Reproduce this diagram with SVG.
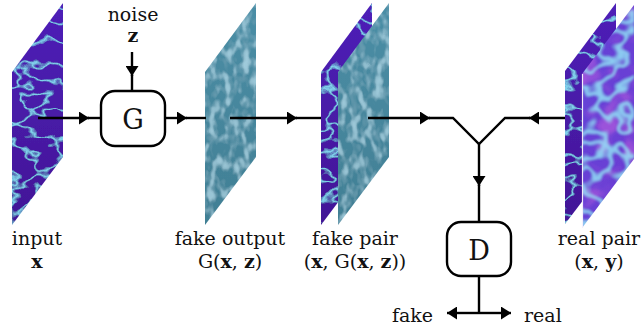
<svg xmlns="http://www.w3.org/2000/svg" width="643" height="332" viewBox="0 0 643 332">
<defs>
<style>
.lbl{font-family:"DejaVu Serif","Liberation Serif",serif;font-size:19px;fill:#111;text-anchor:middle}
.b{font-weight:bold}
.big{font-family:"DejaVu Serif","Liberation Serif",serif;font-size:27px;fill:#111;text-anchor:middle}
.wire{fill:none;stroke:#000;stroke-width:2.4;stroke-linejoin:miter}
.box{fill:#fff;stroke:#000;stroke-width:2.4}
</style>
<marker id="ah" markerUnits="userSpaceOnUse" markerWidth="11" markerHeight="13" refX="10" refY="6.5" orient="auto">
<path d="M0,0 L10,6.5 L0,13 z" fill="#000"/>
</marker>
<filter id="fBlue" x="0" y="0" width="1" height="1">
<feTurbulence type="fractalNoise" baseFrequency="0.03 0.045" numOctaves="3" seed="2" result="n"/>
<feColorMatrix in="n" type="matrix" values="0 0 0 0 0.25  0 0 0 0 0.78  0 0 0 0 0.93  1 0 0 0 0" result="c"/>
<feComponentTransfer in="c" result="v"><feFuncA type="table" tableValues="0 0 0 0 0 0 0 0 0 0 0 0 0 0 0 0 0 0 0 0.3 0.85 0.3 0 0 0 0 0 0 0 0 0 0 0 0 0 0 0 0 0 0 0"/></feComponentTransfer>
<feGaussianBlur in="v" stdDeviation="0.5" result="vb"/>
<feComposite in="vb" in2="SourceGraphic" operator="over"/>
</filter>
<filter id="fFake" x="0" y="0" width="1" height="1">
<feTurbulence type="fractalNoise" baseFrequency="0.12 0.07" numOctaves="2" seed="7" result="n"/>
<feColorMatrix in="n" type="matrix" values="0 0 0 0 0.5  0 0 0 0 0.78  0 0 0 0 0.9  1 0 0 0 0" result="c"/>
<feComponentTransfer in="c" result="hi"><feFuncA type="table" tableValues="0 0 0 0 0 0.15 0.45 0.6 0.6 0.6"/></feComponentTransfer>
<feColorMatrix in="n" type="matrix" values="0 0 0 0 0.2  0 0 0 0 0.4  0 0 0 0 0.5  0 1 0 0 0" result="d"/>
<feComponentTransfer in="d" result="lo"><feFuncA type="table" tableValues="0 0 0 0 0 0 0.25 0.45 0.5 0.5"/></feComponentTransfer>
<feMerge result="m"><feMergeNode in="SourceGraphic"/><feMergeNode in="lo"/><feMergeNode in="hi"/></feMerge>
<feGaussianBlur in="m" stdDeviation="0.4"/>
</filter>
<filter id="fReal" x="0" y="0" width="1" height="1">
<feTurbulence type="fractalNoise" baseFrequency="0.045" numOctaves="2" seed="11" result="n"/>
<feColorMatrix in="n" type="matrix" values="0 0 0 0 0.52  0 0 0 0 0.12  0 0 0 0 0.74  0 1 0 0 0" result="m"/>
<feComponentTransfer in="m" result="mag"><feFuncA type="table" tableValues="0 0 0 0 0 0.1 0.35 0.5 0.5 0.5"/></feComponentTransfer>
<feColorMatrix in="n" type="matrix" values="0 0 0 0 0.3  0 0 0 0 0.76  0 0 0 0 0.95  1 0 0 0 0" result="c"/>
<feComponentTransfer in="c" result="v"><feFuncA type="table" tableValues="0 0 0 0 0 0 0 0 0 0 0 0 0 0 0 0 0 0.1 0.35 0.65 0.8 0.65 0.35 0.1 0 0 0 0 0 0 0 0 0 0 0 0 0 0 0 0 0"/></feComponentTransfer>
<feGaussianBlur in="v" stdDeviation="0.8" result="vb"/>
<feMerge><feMergeNode in="SourceGraphic"/><feMergeNode in="mag"/><feMergeNode in="vb"/></feMerge>
</filter>
<linearGradient id="gBlue" x1="0" y1="0" x2="0" y2="1">
<stop offset="0" stop-color="#4e20b8"/><stop offset="1" stop-color="#421596"/>
</linearGradient>
<linearGradient id="gFake" x1="0" y1="0" x2="0" y2="1">
<stop offset="0" stop-color="#4b8ea6"/><stop offset="1" stop-color="#417f94"/>
</linearGradient>
<linearGradient id="gReal" x1="0" y1="0" x2="1" y2="1">
<stop offset="0" stop-color="#6244d8"/><stop offset="1" stop-color="#6e3cd2"/>
</linearGradient>
<clipPath id="cpIn"><polygon points="12,72 63,3 63,157 12,225"/></clipPath>
<clipPath id="cpOut"><polygon points="205,72 256,3 256,157 205,225"/></clipPath>
<clipPath id="cpFb"><polygon points="321,72 372,3 372,157 321,225"/></clipPath>
<clipPath id="cpFf"><polygon points="338,72 389,3 389,157 338,225"/></clipPath>
<clipPath id="cpRb"><polygon points="565,71 616,3 616,157 565,224"/></clipPath>
<clipPath id="cpRf"><polygon points="582,74 634,5 634,159 582,228"/></clipPath>
</defs>
<rect width="643" height="332" fill="#fff"/>

<g id="input">
<g clip-path="url(#cpIn)"><rect x="12" y="3" width="51" height="222" fill="url(#gBlue)" filter="url(#fBlue)"/></g>
<text class="lbl" x="37" y="245">input</text>
<text class="lbl b" x="37" y="268">x</text>
</g>

<g id="fake-output">
<g clip-path="url(#cpOut)"><rect x="205" y="3" width="51" height="222" fill="url(#gFake)" filter="url(#fFake)"/></g>
<text class="lbl" x="230" y="245">fake output</text>
<text class="lbl" x="230" y="268">G(<tspan class="b">x</tspan>, <tspan class="b">z</tspan>)</text>
</g>

<g id="connectors">
<path class="wire" d="M38,118 H89" marker-end="url(#ah)"/>
<path class="wire" d="M88,118 H101"/>
<path class="wire" d="M132,52 V76" marker-end="url(#ah)"/>
<path class="wire" d="M132,75 V91"/>
<path class="wire" d="M165,118 H187" marker-end="url(#ah)"/>
<path class="wire" d="M186,118 H206"/>
<path class="wire" d="M230,118 H297" marker-end="url(#ah)"/>
<path class="wire" d="M296,118 H321"/>
</g>

<g id="fake-pair">
<g clip-path="url(#cpFb)"><rect x="321" y="3" width="51" height="222" fill="url(#gBlue)" filter="url(#fBlue)"/></g>
<g clip-path="url(#cpFf)"><rect x="338" y="3" width="51" height="222" fill="url(#gFake)" filter="url(#fFake)"/></g>
<text class="lbl" x="355" y="245">fake pair</text>
<text class="lbl" x="355" y="268">(<tspan class="b">x</tspan>, G(<tspan class="b">x</tspan>, <tspan class="b">z</tspan>))</text>
</g>

<g id="real-pair">
<g clip-path="url(#cpRb)"><rect x="565" y="3" width="51" height="222" fill="url(#gBlue)" filter="url(#fBlue)"/></g>
<g clip-path="url(#cpRf)"><rect x="582" y="5" width="52" height="223" fill="url(#gReal)" filter="url(#fReal)"/></g>
<line x1="582.5" y1="74" x2="582.5" y2="228" stroke="#f4eefc" stroke-width="1.2"/>
<text class="lbl" x="599" y="245">real pair</text>
<text class="lbl" x="599" y="268">(<tspan class="b">x</tspan>, <tspan class="b">y</tspan>)</text>
</g>

<g id="connectors-d">
<path class="wire" d="M368,118 H430" marker-end="url(#ah)"/>
<path class="wire" d="M429,118 H453 L479,144 L505,118 H530"/>
<path class="wire" d="M565,118 H529" marker-end="url(#ah)"/>
<path class="wire" d="M479,143 V186" marker-end="url(#ah)"/>
<path class="wire" d="M479,185 V223"/>
<path class="wire" d="M479,275 V313"/>
<path class="wire" d="M479,313 H447" marker-end="url(#ah)"/>
<path class="wire" d="M479,313 H511" marker-end="url(#ah)"/>
</g>

<g id="G">
<rect class="box" x="101" y="91" width="64" height="55" rx="14"/>
<text class="big" x="133" y="129">G</text>
</g>
<g id="noise">
<text class="lbl" x="133" y="21">noise</text>
<text class="lbl b" x="133" y="42">z</text>
</g>

<g id="D">
<rect class="box" x="447" y="222" width="64" height="54" rx="14"/>
<text class="big" x="479" y="260">D</text>
</g>

<g id="outputs">
<text class="lbl" x="433" y="322" style="text-anchor:end">fake</text>
<text class="lbl" x="524" y="322" style="text-anchor:start">real</text>
</g>
</svg>
